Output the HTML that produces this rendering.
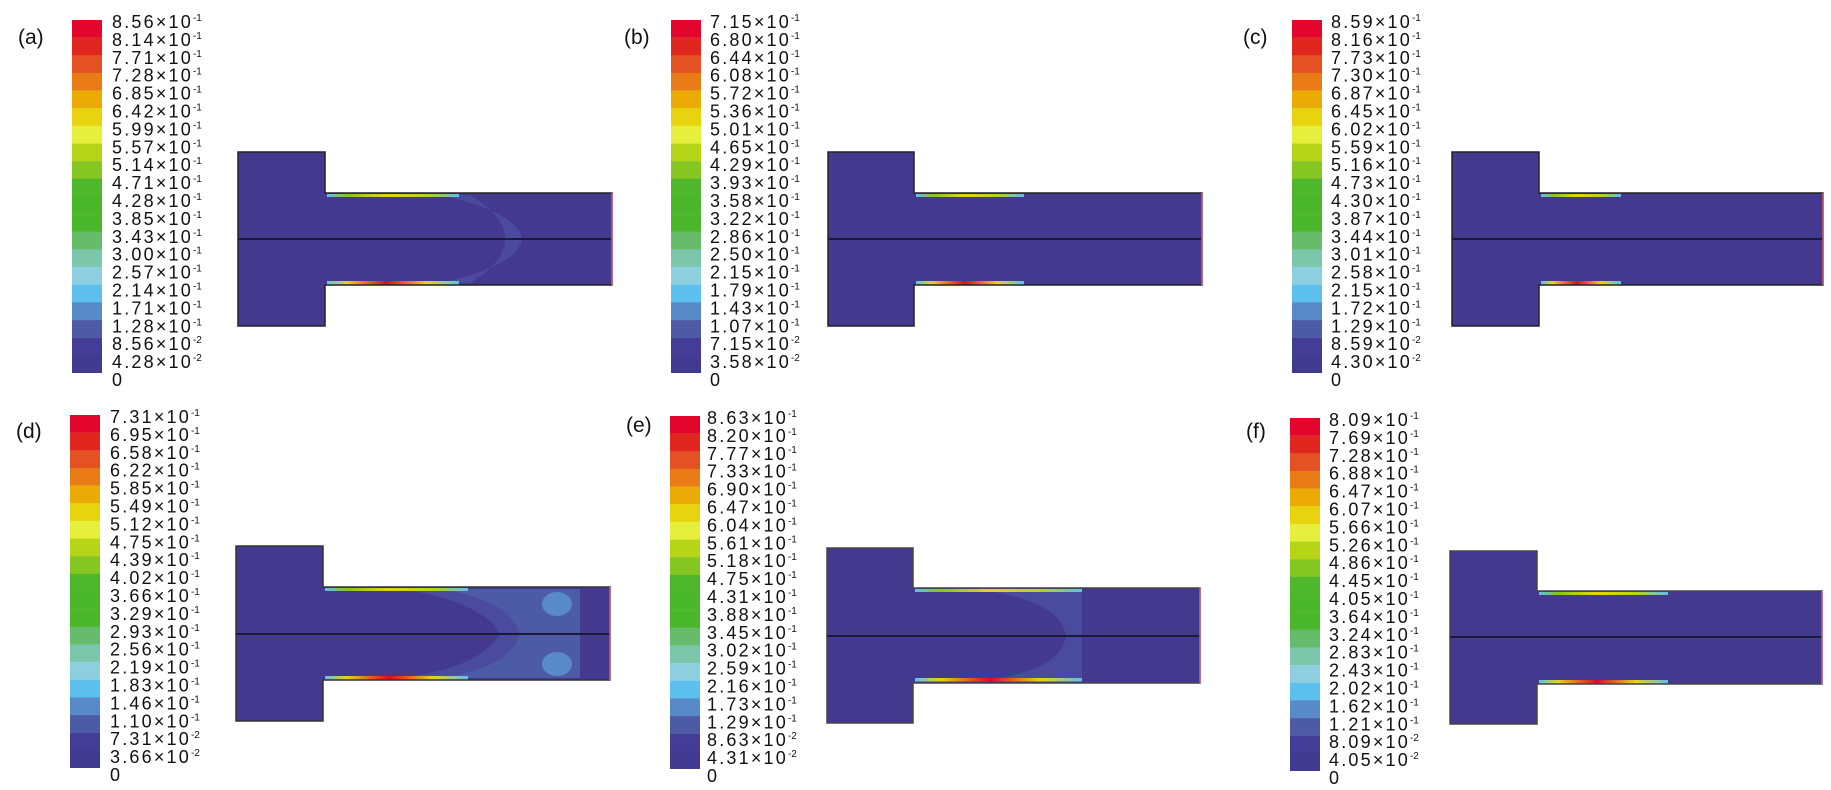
<!DOCTYPE html>
<html><head><meta charset="utf-8"><style>
html,body{margin:0;padding:0;background:#fff;width:1831px;height:790px;overflow:hidden}
svg{display:block}
.l{font-family:"Liberation Sans",sans-serif;font-size:18px;letter-spacing:2.2px;fill:#111}
.s{font-size:10px;letter-spacing:0}
.p{font-family:"Liberation Sans",sans-serif;font-size:21px;fill:#111}
</style></head><body>
<svg width="1831" height="790" viewBox="0 0 1831 790" xmlns="http://www.w3.org/2000/svg">
<defs>
<g id="cb">
<rect x="0" y="0" width="30" height="17.8" fill="#e2062c"/>
<rect x="0" y="17.65" width="30" height="17.8" fill="#e0261f"/>
<rect x="0" y="35.3" width="30" height="17.8" fill="#e45224"/>
<rect x="0" y="52.95" width="30" height="17.8" fill="#ea7c18"/>
<rect x="0" y="70.6" width="30" height="17.8" fill="#ebab04"/>
<rect x="0" y="88.25" width="30" height="17.8" fill="#e8d40e"/>
<rect x="0" y="105.9" width="30" height="17.8" fill="#e6ef3c"/>
<rect x="0" y="123.55" width="30" height="17.8" fill="#b5d516"/>
<rect x="0" y="141.2" width="30" height="17.8" fill="#85c623"/>
<rect x="0" y="158.85" width="30" height="17.8" fill="#4fb72c"/>
<rect x="0" y="176.5" width="30" height="17.8" fill="#4ab72b"/>
<rect x="0" y="194.15" width="30" height="17.8" fill="#4ab72b"/>
<rect x="0" y="211.8" width="30" height="17.8" fill="#67bc6b"/>
<rect x="0" y="229.45" width="30" height="17.8" fill="#7cc6ab"/>
<rect x="0" y="247.1" width="30" height="17.8" fill="#8dcfde"/>
<rect x="0" y="264.75" width="30" height="17.8" fill="#5dc0ee"/>
<rect x="0" y="282.4" width="30" height="17.8" fill="#5889c9"/>
<rect x="0" y="300.05" width="30" height="17.8" fill="#4d5ba7"/>
<rect x="0" y="317.7" width="30" height="17.8" fill="#433d97"/>
<rect x="0" y="335.35" width="30" height="17.65" fill="#413a91"/>
</g>
<linearGradient id="gt" x1="0" x2="1" y1="0" y2="0">
<stop offset="0" stop-color="#5dc0ee"/><stop offset="0.15" stop-color="#85c623"/><stop offset="0.45" stop-color="#e8d40e"/><stop offset="0.75" stop-color="#b5d516"/><stop offset="1" stop-color="#5dc0ee"/>
</linearGradient>
<linearGradient id="gb" x1="0" x2="1" y1="0" y2="0">
<stop offset="0" stop-color="#5dc0ee"/><stop offset="0.15" stop-color="#e8d40e"/><stop offset="0.45" stop-color="#e2062c"/><stop offset="0.75" stop-color="#e8d40e"/><stop offset="1" stop-color="#5dc0ee"/>
</linearGradient>
</defs>

<!-- ===== (a) ===== -->
<text class="p" x="18" y="44">(a)</text>
<use href="#cb" x="72" y="20"/>
<g class="l">
<text x="112" y="28">8.56×10<tspan class="s" dy="-7">-1</tspan></text>
<text x="112" y="45.9">8.14×10<tspan class="s" dy="-7">-1</tspan></text>
<text x="112" y="63.8">7.71×10<tspan class="s" dy="-7">-1</tspan></text>
<text x="112" y="81.7">7.28×10<tspan class="s" dy="-7">-1</tspan></text>
<text x="112" y="99.6">6.85×10<tspan class="s" dy="-7">-1</tspan></text>
<text x="112" y="117.5">6.42×10<tspan class="s" dy="-7">-1</tspan></text>
<text x="112" y="135.4">5.99×10<tspan class="s" dy="-7">-1</tspan></text>
<text x="112" y="153.3">5.57×10<tspan class="s" dy="-7">-1</tspan></text>
<text x="112" y="171.2">5.14×10<tspan class="s" dy="-7">-1</tspan></text>
<text x="112" y="189.1">4.71×10<tspan class="s" dy="-7">-1</tspan></text>
<text x="112" y="207">4.28×10<tspan class="s" dy="-7">-1</tspan></text>
<text x="112" y="224.9">3.85×10<tspan class="s" dy="-7">-1</tspan></text>
<text x="112" y="242.8">3.43×10<tspan class="s" dy="-7">-1</tspan></text>
<text x="112" y="260.7">3.00×10<tspan class="s" dy="-7">-1</tspan></text>
<text x="112" y="278.6">2.57×10<tspan class="s" dy="-7">-1</tspan></text>
<text x="112" y="296.5">2.14×10<tspan class="s" dy="-7">-1</tspan></text>
<text x="112" y="314.4">1.71×10<tspan class="s" dy="-7">-1</tspan></text>
<text x="112" y="332.3">1.28×10<tspan class="s" dy="-7">-1</tspan></text>
<text x="112" y="350.2">8.56×10<tspan class="s" dy="-7">-2</tspan></text>
<text x="112" y="368.1">4.28×10<tspan class="s" dy="-7">-2</tspan></text>
<text x="112" y="386">0</text>
</g>
<rect x="238" y="152" width="87" height="174" fill="#433a8f"/>
<rect x="325" y="193" width="287" height="92" fill="#433a8f"/>
<path d="M440 195 Q518 212 522 239 Q518 266 440 283 L470 283 Q505 262 505 239 Q505 216 470 195Z" fill="#4a4a9e"/>
<rect x="327" y="194" width="132" height="3" fill="url(#gt)"/>
<rect x="327" y="281" width="132" height="3.5" fill="url(#gb)"/>
<path d="M238 152H325V193H612V285H325V326H238Z" fill="none" stroke="#222" stroke-width="1.5"/>
<line x1="238" y1="239" x2="612" y2="239" stroke="#1a1a3a" stroke-width="2"/>
<line x1="612" y1="193" x2="612" y2="285" stroke="#d06070" stroke-width="1.5"/>

<!-- ===== (b) ===== -->
<text class="p" x="624" y="44">(b)</text>
<use href="#cb" x="671" y="20"/>
<g class="l">
<text x="710" y="28">7.15×10<tspan class="s" dy="-7">-1</tspan></text>
<text x="710" y="45.9">6.80×10<tspan class="s" dy="-7">-1</tspan></text>
<text x="710" y="63.8">6.44×10<tspan class="s" dy="-7">-1</tspan></text>
<text x="710" y="81.7">6.08×10<tspan class="s" dy="-7">-1</tspan></text>
<text x="710" y="99.6">5.72×10<tspan class="s" dy="-7">-1</tspan></text>
<text x="710" y="117.5">5.36×10<tspan class="s" dy="-7">-1</tspan></text>
<text x="710" y="135.4">5.01×10<tspan class="s" dy="-7">-1</tspan></text>
<text x="710" y="153.3">4.65×10<tspan class="s" dy="-7">-1</tspan></text>
<text x="710" y="171.2">4.29×10<tspan class="s" dy="-7">-1</tspan></text>
<text x="710" y="189.1">3.93×10<tspan class="s" dy="-7">-1</tspan></text>
<text x="710" y="207">3.58×10<tspan class="s" dy="-7">-1</tspan></text>
<text x="710" y="224.9">3.22×10<tspan class="s" dy="-7">-1</tspan></text>
<text x="710" y="242.8">2.86×10<tspan class="s" dy="-7">-1</tspan></text>
<text x="710" y="260.7">2.50×10<tspan class="s" dy="-7">-1</tspan></text>
<text x="710" y="278.6">2.15×10<tspan class="s" dy="-7">-1</tspan></text>
<text x="710" y="296.5">1.79×10<tspan class="s" dy="-7">-1</tspan></text>
<text x="710" y="314.4">1.43×10<tspan class="s" dy="-7">-1</tspan></text>
<text x="710" y="332.3">1.07×10<tspan class="s" dy="-7">-1</tspan></text>
<text x="710" y="350.2">7.15×10<tspan class="s" dy="-7">-2</tspan></text>
<text x="710" y="368.1">3.58×10<tspan class="s" dy="-7">-2</tspan></text>
<text x="710" y="386">0</text>
</g>
<rect x="828" y="152" width="86" height="174" fill="#433a8f"/>
<rect x="914" y="193" width="288" height="92" fill="#433a8f"/>
<rect x="916" y="194" width="108" height="3" fill="url(#gt)"/>
<rect x="916" y="281" width="108" height="3.5" fill="url(#gb)"/>
<path d="M828 152H914V193H1202V285H914V326H828Z" fill="none" stroke="#222" stroke-width="1.5"/>
<line x1="828" y1="239" x2="1202" y2="239" stroke="#1a1a3a" stroke-width="2"/>
<line x1="1202" y1="193" x2="1202" y2="285" stroke="#d06070" stroke-width="1.5"/>

<!-- ===== (c) ===== -->
<text class="p" x="1243" y="44">(c)</text>
<use href="#cb" x="1292" y="20"/>
<g class="l">
<text x="1331" y="28">8.59×10<tspan class="s" dy="-7">-1</tspan></text>
<text x="1331" y="45.9">8.16×10<tspan class="s" dy="-7">-1</tspan></text>
<text x="1331" y="63.8">7.73×10<tspan class="s" dy="-7">-1</tspan></text>
<text x="1331" y="81.7">7.30×10<tspan class="s" dy="-7">-1</tspan></text>
<text x="1331" y="99.6">6.87×10<tspan class="s" dy="-7">-1</tspan></text>
<text x="1331" y="117.5">6.45×10<tspan class="s" dy="-7">-1</tspan></text>
<text x="1331" y="135.4">6.02×10<tspan class="s" dy="-7">-1</tspan></text>
<text x="1331" y="153.3">5.59×10<tspan class="s" dy="-7">-1</tspan></text>
<text x="1331" y="171.2">5.16×10<tspan class="s" dy="-7">-1</tspan></text>
<text x="1331" y="189.1">4.73×10<tspan class="s" dy="-7">-1</tspan></text>
<text x="1331" y="207">4.30×10<tspan class="s" dy="-7">-1</tspan></text>
<text x="1331" y="224.9">3.87×10<tspan class="s" dy="-7">-1</tspan></text>
<text x="1331" y="242.8">3.44×10<tspan class="s" dy="-7">-1</tspan></text>
<text x="1331" y="260.7">3.01×10<tspan class="s" dy="-7">-1</tspan></text>
<text x="1331" y="278.6">2.58×10<tspan class="s" dy="-7">-1</tspan></text>
<text x="1331" y="296.5">2.15×10<tspan class="s" dy="-7">-1</tspan></text>
<text x="1331" y="314.4">1.72×10<tspan class="s" dy="-7">-1</tspan></text>
<text x="1331" y="332.3">1.29×10<tspan class="s" dy="-7">-1</tspan></text>
<text x="1331" y="350.2">8.59×10<tspan class="s" dy="-7">-2</tspan></text>
<text x="1331" y="368.1">4.30×10<tspan class="s" dy="-7">-2</tspan></text>
<text x="1331" y="386">0</text>
</g>
<rect x="1452" y="152" width="87" height="174" fill="#433a8f"/>
<rect x="1539" y="193" width="284" height="92" fill="#433a8f"/>
<rect x="1541" y="194" width="80" height="3" fill="url(#gt)"/>
<rect x="1541" y="281" width="80" height="3.5" fill="url(#gb)"/>
<path d="M1452 152H1539V193H1823V285H1539V326H1452Z" fill="none" stroke="#222" stroke-width="1.5"/>
<line x1="1452" y1="239" x2="1823" y2="239" stroke="#1a1a3a" stroke-width="2"/>
<line x1="1823" y1="193" x2="1823" y2="285" stroke="#d06070" stroke-width="1.5"/>

<!-- ===== (d) ===== -->
<text class="p" x="16" y="438">(d)</text>
<use href="#cb" x="70" y="415"/>
<g class="l">
<text x="110" y="423">7.31×10<tspan class="s" dy="-7">-1</tspan></text>
<text x="110" y="440.9">6.95×10<tspan class="s" dy="-7">-1</tspan></text>
<text x="110" y="458.8">6.58×10<tspan class="s" dy="-7">-1</tspan></text>
<text x="110" y="476.7">6.22×10<tspan class="s" dy="-7">-1</tspan></text>
<text x="110" y="494.6">5.85×10<tspan class="s" dy="-7">-1</tspan></text>
<text x="110" y="512.5">5.49×10<tspan class="s" dy="-7">-1</tspan></text>
<text x="110" y="530.4">5.12×10<tspan class="s" dy="-7">-1</tspan></text>
<text x="110" y="548.3">4.75×10<tspan class="s" dy="-7">-1</tspan></text>
<text x="110" y="566.2">4.39×10<tspan class="s" dy="-7">-1</tspan></text>
<text x="110" y="584.1">4.02×10<tspan class="s" dy="-7">-1</tspan></text>
<text x="110" y="602">3.66×10<tspan class="s" dy="-7">-1</tspan></text>
<text x="110" y="619.9">3.29×10<tspan class="s" dy="-7">-1</tspan></text>
<text x="110" y="637.8">2.93×10<tspan class="s" dy="-7">-1</tspan></text>
<text x="110" y="655.7">2.56×10<tspan class="s" dy="-7">-1</tspan></text>
<text x="110" y="673.6">2.19×10<tspan class="s" dy="-7">-1</tspan></text>
<text x="110" y="691.5">1.83×10<tspan class="s" dy="-7">-1</tspan></text>
<text x="110" y="709.4">1.46×10<tspan class="s" dy="-7">-1</tspan></text>
<text x="110" y="727.3">1.10×10<tspan class="s" dy="-7">-1</tspan></text>
<text x="110" y="745.2">7.31×10<tspan class="s" dy="-7">-2</tspan></text>
<text x="110" y="763.1">3.66×10<tspan class="s" dy="-7">-2</tspan></text>
<text x="110" y="781">0</text>
</g>
<rect x="236" y="546" width="87" height="175" fill="#433a8f"/>
<rect x="323" y="587" width="287" height="93" fill="#433a8f"/>
<path d="M400 589 Q480 600 500 634 Q480 668 400 678 L575 678 L575 589Z" fill="#4a4a9e"/>
<path d="M440 589 Q510 600 520 634 Q510 668 440 678 L580 678 L580 589Z" fill="#4d5ba7"/>
<ellipse cx="557" cy="604" rx="15" ry="12" fill="#5889c9"/>
<ellipse cx="557" cy="664" rx="15" ry="12" fill="#5889c9"/>
<rect x="580" y="588" width="30" height="91" fill="#433a8f"/>
<rect x="325" y="588" width="143" height="3" fill="url(#gt)"/>
<rect x="325" y="676" width="143" height="3.5" fill="url(#gb)"/>
<path d="M236 546H323V587H610V680H323V721H236Z" fill="none" stroke="#333" stroke-width="1.5"/>
<line x1="236" y1="634" x2="610" y2="634" stroke="#1a1a3a" stroke-width="2"/>
<line x1="610" y1="587" x2="610" y2="680" stroke="#d06070" stroke-width="1.5"/>

<!-- ===== (e) ===== -->
<text class="p" x="626" y="432">(e)</text>
<use href="#cb" x="670" y="416"/>
<g class="l">
<text x="707" y="424">8.63×10<tspan class="s" dy="-7">-1</tspan></text>
<text x="707" y="441.9">8.20×10<tspan class="s" dy="-7">-1</tspan></text>
<text x="707" y="459.8">7.77×10<tspan class="s" dy="-7">-1</tspan></text>
<text x="707" y="477.7">7.33×10<tspan class="s" dy="-7">-1</tspan></text>
<text x="707" y="495.6">6.90×10<tspan class="s" dy="-7">-1</tspan></text>
<text x="707" y="513.5">6.47×10<tspan class="s" dy="-7">-1</tspan></text>
<text x="707" y="531.4">6.04×10<tspan class="s" dy="-7">-1</tspan></text>
<text x="707" y="549.3">5.61×10<tspan class="s" dy="-7">-1</tspan></text>
<text x="707" y="567.2">5.18×10<tspan class="s" dy="-7">-1</tspan></text>
<text x="707" y="585.1">4.75×10<tspan class="s" dy="-7">-1</tspan></text>
<text x="707" y="603">4.31×10<tspan class="s" dy="-7">-1</tspan></text>
<text x="707" y="620.9">3.88×10<tspan class="s" dy="-7">-1</tspan></text>
<text x="707" y="638.8">3.45×10<tspan class="s" dy="-7">-1</tspan></text>
<text x="707" y="656.7">3.02×10<tspan class="s" dy="-7">-1</tspan></text>
<text x="707" y="674.6">2.59×10<tspan class="s" dy="-7">-1</tspan></text>
<text x="707" y="692.5">2.16×10<tspan class="s" dy="-7">-1</tspan></text>
<text x="707" y="710.4">1.73×10<tspan class="s" dy="-7">-1</tspan></text>
<text x="707" y="728.3">1.29×10<tspan class="s" dy="-7">-1</tspan></text>
<text x="707" y="746.2">8.63×10<tspan class="s" dy="-7">-2</tspan></text>
<text x="707" y="764.1">4.31×10<tspan class="s" dy="-7">-2</tspan></text>
<text x="707" y="782">0</text>
</g>
<rect x="827" y="548" width="86" height="175" fill="#433a8f"/>
<rect x="913" y="588" width="287" height="95" fill="#433a8f"/>
<path d="M980 590 Q1060 600 1066 636 Q1060 672 980 681 L1082 681 L1082 590Z" fill="#4a4a9e"/>
<rect x="915" y="589" width="167" height="3" fill="url(#gt)"/>
<rect x="915" y="678" width="167" height="3.5" fill="url(#gb)"/>
<path d="M827 548H913V588H1200V683H913V723H827Z" fill="none" stroke="#444" stroke-width="1.5"/>
<line x1="827" y1="636" x2="1200" y2="636" stroke="#1a1a3a" stroke-width="2"/>
<line x1="1200" y1="588" x2="1200" y2="683" stroke="#d06070" stroke-width="1.5"/>

<!-- ===== (f) ===== -->
<text class="p" x="1246" y="438">(f)</text>
<use href="#cb" x="1290" y="418"/>
<g class="l">
<text x="1329" y="426">8.09×10<tspan class="s" dy="-7">-1</tspan></text>
<text x="1329" y="443.9">7.69×10<tspan class="s" dy="-7">-1</tspan></text>
<text x="1329" y="461.8">7.28×10<tspan class="s" dy="-7">-1</tspan></text>
<text x="1329" y="479.7">6.88×10<tspan class="s" dy="-7">-1</tspan></text>
<text x="1329" y="497.6">6.47×10<tspan class="s" dy="-7">-1</tspan></text>
<text x="1329" y="515.5">6.07×10<tspan class="s" dy="-7">-1</tspan></text>
<text x="1329" y="533.4">5.66×10<tspan class="s" dy="-7">-1</tspan></text>
<text x="1329" y="551.3">5.26×10<tspan class="s" dy="-7">-1</tspan></text>
<text x="1329" y="569.2">4.86×10<tspan class="s" dy="-7">-1</tspan></text>
<text x="1329" y="587.1">4.45×10<tspan class="s" dy="-7">-1</tspan></text>
<text x="1329" y="605">4.05×10<tspan class="s" dy="-7">-1</tspan></text>
<text x="1329" y="622.9">3.64×10<tspan class="s" dy="-7">-1</tspan></text>
<text x="1329" y="640.8">3.24×10<tspan class="s" dy="-7">-1</tspan></text>
<text x="1329" y="658.7">2.83×10<tspan class="s" dy="-7">-1</tspan></text>
<text x="1329" y="676.6">2.43×10<tspan class="s" dy="-7">-1</tspan></text>
<text x="1329" y="694.5">2.02×10<tspan class="s" dy="-7">-1</tspan></text>
<text x="1329" y="712.4">1.62×10<tspan class="s" dy="-7">-1</tspan></text>
<text x="1329" y="730.3">1.21×10<tspan class="s" dy="-7">-1</tspan></text>
<text x="1329" y="748.2">8.09×10<tspan class="s" dy="-7">-2</tspan></text>
<text x="1329" y="766.1">4.05×10<tspan class="s" dy="-7">-2</tspan></text>
<text x="1329" y="784">0</text>
</g>
<rect x="1450" y="551" width="87" height="173" fill="#433a8f"/>
<rect x="1537" y="591" width="285" height="93" fill="#433a8f"/>
<rect x="1539" y="592" width="129" height="3" fill="url(#gt)"/>
<rect x="1539" y="680" width="129" height="3.5" fill="url(#gb)"/>
<path d="M1450 551H1537V591H1822V684H1537V724H1450Z" fill="none" stroke="#444" stroke-width="1.5"/>
<line x1="1450" y1="637" x2="1822" y2="637" stroke="#1a1a3a" stroke-width="2"/>
<line x1="1822" y1="591" x2="1822" y2="684" stroke="#d06070" stroke-width="1.5"/>
</svg>
</body></html>
